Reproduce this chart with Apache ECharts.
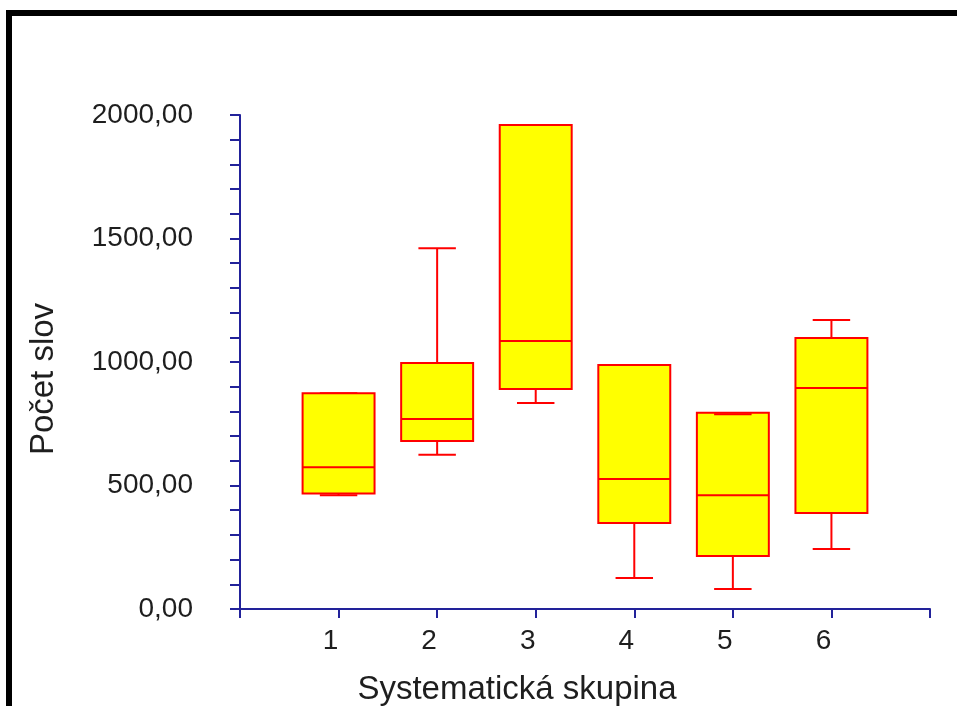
<!DOCTYPE html>
<html>
<head>
<meta charset="utf-8">
<title>Počet slov</title>
<script src="https://cdn.jsdelivr.net/npm/echarts@6/dist/echarts.min.js"></script>
<style>
    html, body { margin: 0; padding: 0; background: #fff; }
    #char1 { width: 957px; height: 706px; }
</style>
</head>
<body>
<div id="char1"></div>
<script>
// data
var groups = [1, 2, 3, 4, 5, 6];
var mins = [461, 625, 834, 126, 81, 243];
var q1s = [468, 680, 891, 348, 215, 389];
var medians = [574, 769, 1085, 526, 461, 895];
var q3s = [873, 996, 1960, 988, 795, 1097];
var maxs = [873, 1461, 1960, 988, 788, 1170];
var xTicks = [0, 1, 2, 3, 4, 5, 6, 7];
var yTicks = [0, 500, 1000, 1500, 2000];

var boxData = groups.map(function (g, i) {
    return [g, mins[i], q1s[i], medians[i], q3s[i], maxs[i]];
});

function char1() {
    var myChart = echarts.init(document.getElementById("char1"));

    var axisColor = "#22229a";
    var textColor = "#1e1e1e";
    var font = "'Liberation Sans', Arial, sans-serif";

    function renderBox(params, api) {
        var x = api.value(0);
        var pMin = api.coord([x, api.value(1)]);
        var pQ1 = api.coord([x, api.value(2)]);
        var pMed = api.coord([x, api.value(3)]);
        var pQ3 = api.coord([x, api.value(4)]);
        var pMax = api.coord([x, api.value(5)]);
        var half = api.size([0.73, 0])[0] / 2;
        var capHalf = api.size([0.38, 0])[0] / 2;
        var cx = pMed[0];
        var line = { stroke: "#ff0000", lineWidth: 2 };
        var children = [];

        // lower whisker
        children.push({ type: "line", shape: { x1: cx, y1: pQ1[1], x2: cx, y2: pMin[1] }, style: line });
        children.push({ type: "line", shape: { x1: cx - capHalf, y1: pMin[1], x2: cx + capHalf, y2: pMin[1] }, style: line });
        // upper whisker
        children.push({ type: "line", shape: { x1: cx, y1: pQ3[1], x2: cx, y2: pMax[1] }, style: line });
        children.push({ type: "line", shape: { x1: cx - capHalf, y1: pMax[1], x2: cx + capHalf, y2: pMax[1] }, style: line });
        // box
        children.push({
            type: "rect",
            shape: { x: cx - half, y: pQ3[1], width: half * 2, height: pQ1[1] - pQ3[1] },
            style: { fill: "#ffff00", stroke: "#ff0000", lineWidth: 2 },
        });
        children.push({ type: "line", shape: { x1: cx - half, y1: pMed[1], x2: cx + half, y2: pMed[1] }, style: line });
        // cap of box 5 sits just inside the box
        if (api.value(5) < api.value(4)) {
            children.push({ type: "line", shape: { x1: cx - capHalf, y1: pMax[1], x2: cx + capHalf, y2: pMax[1] }, style: line });
        }
        return { type: "group", children: children };
    }

    var option = {
        animation: false,
        backgroundColor: "#ffffff",
        graphic: [
            { type: "rect", shape: { x: 6, y: 10, width: 951, height: 6 }, style: { fill: "#000" } },
            { type: "rect", shape: { x: 6, y: 10, width: 6, height: 696 }, style: { fill: "#000" } },
        ],
        grid: {
            left: 240,
            right: 27,
            top: 115,
            bottom: 97,
            containLabel: false,
            outerBoundsMode: "none",
        },
        xAxis: {
            type: "value",
            min: xTicks[0],
            max: xTicks[xTicks.length - 1],
            interval: 1,
            name: "Systematická skupina",
            nameLocation: "middle",
            nameGap: 64,
            nameTextStyle: {
                color: textColor,
                fontSize: 33,
                fontFamily: font,
                padding: [0, 136, 0, 0],
            },
            axisLine: {
                onZero: false,
                lineStyle: { color: axisColor, width: 2 },
            },
            axisTick: {
                show: true,
                inside: false,
                length: 9,
                lineStyle: { color: axisColor, width: 2 },
            },
            axisLabel: {
                color: textColor,
                fontSize: 28,
                fontFamily: font,
                margin: 18,
                padding: [0, 16, 0, 0],
                formatter: function (v) {
                    return groups.indexOf(v) >= 0 ? String(v) : "";
                },
            },
            splitLine: { show: false },
        },
        yAxis: {
            type: "value",
            min: yTicks[0],
            max: yTicks[yTicks.length - 1],
            interval: 500,
            name: "Počet slov",
            nameLocation: "middle",
            nameGap: 180,
            nameTextStyle: {
                color: textColor,
                fontSize: 33,
                fontFamily: font,
                padding: [0, 34, 0, 0],
            },
            axisLine: {
                show: true,
                lineStyle: { color: axisColor, width: 2 },
            },
            axisTick: {
                show: true,
                inside: false,
                length: 10,
                lineStyle: { color: axisColor, width: 2 },
            },
            minorTick: {
                show: true,
                splitNumber: 5,
                length: 10,
                lineStyle: { color: axisColor, width: 2 },
            },
            axisLabel: {
                color: textColor,
                fontSize: 28,
                fontFamily: font,
                margin: 47,
                formatter: function (v) {
                    return v.toFixed(2).replace(".", ",");
                },
            },
            splitLine: { show: false },
        },
        series: [
            {
                name: "Počet slov",
                type: "custom",
                renderItem: renderBox,
                encode: { x: 0, y: [1, 2, 3, 4, 5] },
                data: boxData,
            },
        ],
    };

    myChart.setOption(option);
    window.addEventListener("resize", function () {
        myChart.resize();
    });
}

char1();
</script>
</body>
</html>
